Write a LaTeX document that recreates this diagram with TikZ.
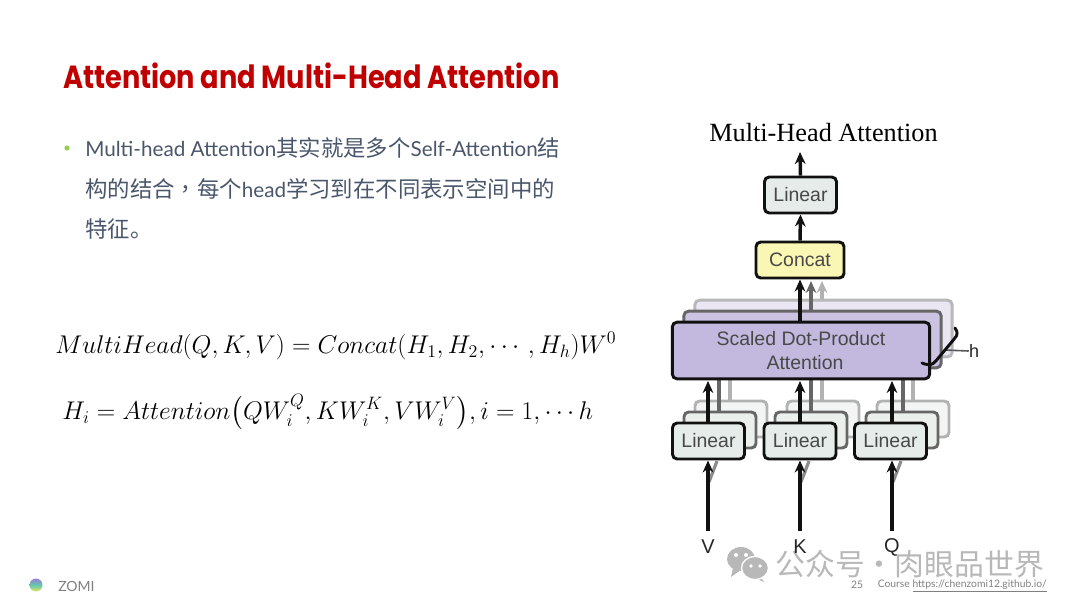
\documentclass[tikz,border=0pt]{standalone}
\usepackage{fix-cm}
\usepackage{amsmath}
\usepackage[no-math]{fontspec}
\usetikzlibrary{arrows.meta,positioning,calc}
\newfontfamily\gillfont{Lato}
\newfontfamily\titlefont[FakeStretch=0.85]{Poppins}
\newfontfamily\helvfont{Liberation Sans}
\newfontfamily\timesfont{Liberation Serif}
\newfontfamily\cjk[Scale=1.083]{Noto Sans CJK SC}
\newfontfamily\cjktc[Scale=1.083]{Noto Sans CJK TC}
\newfontfamily\stampfont{Noto Sans CJK SC}
\definecolor{cTitle}{HTML}{C00000}
\definecolor{cBody}{HTML}{4A566B}
\definecolor{cBullet}{HTML}{92D050}
\definecolor{cLinear}{HTML}{E6ECE9}
\definecolor{cConcat}{HTML}{FAF6B4}
\definecolor{cScaled}{HTML}{C3B9DE}
\definecolor{cInk}{HTML}{111111}
\definecolor{cLabel}{HTML}{484848}
\definecolor{cStamp}{HTML}{B8B8B8}
\definecolor{cLogoA}{HTML}{9B7FD4}
\definecolor{cLogoB}{HTML}{5FC8B0}
\definecolor{cLogoC}{HTML}{EDE35E}
\tikzset{
  box/.style    = {draw=cInk, line width=2.2pt, rounded corners=3.5pt, align=center,
                   inner sep=0pt, text=cLabel, font=\helvfont\fontsize{14.6}{17.8}\selectfont},
  linbox/.style = {box, fill=cLinear, minimum width=54pt, minimum height=27pt},
  linmid/.style = {linbox, draw=black!60, fill=cLinear!80},
  linbak/.style = {linbox, draw=black!30, fill=cLinear!50},
  scabox/.style = {box, fill=cScaled, minimum width=193pt, minimum height=42.5pt},
  scamid/.style = {scabox, draw=black!60, fill=cScaled!85},
  scabak/.style = {scabox, draw=black!28, fill=cScaled!35},
  flow/.style   = {-{Stealth[length=9pt,width=8pt]}, line width=2.6pt, draw=cInk},
  flowmid/.style = {flow, draw=black!60},
  flowbak/.style = {flow, draw=black!30},
  plainmid/.style = {line width=2.4pt, draw=black!60},
  plainbak/.style = {line width=2.4pt, draw=black!30},
  smear/.style  = {line width=2.4pt, draw=black!45},
  inlabel/.style = {font=\helvfont\fontsize{15}{18}\selectfont, text=black!85, inner sep=0pt},
  eqn/.style    = {anchor=west, inner sep=0pt, text=black, font=\fontsize{19.2}{23}\selectfont},
  stamp/.style  = {inner sep=0pt, text=cStamp, font=\stampfont\fontsize{22.4}{24}\selectfont},
  foot/.style   = {inner sep=0pt, text=black!50, font=\gillfont\fontsize{7.75}{9}\selectfont},
}
\begin{document}
\begin{tikzpicture}[x=0.75pt,y=-0.75pt]
  \useasboundingbox (0,0) rectangle (1080,608);
  % slide text
  \node[anchor=west, inner sep=0pt, text=cTitle, font=\titlefont\bfseries\fontsize{24}{28}\selectfont]
    (title) at (63,75.5) {Attention and Multi-Head Attention};
  \fill[cBullet] (67,148) circle (2.6);
  \node[anchor=north west, inner sep=0pt, align=left, text=cBody,
        font=\gillfont\fontsize{15.5}{30.4}\selectfont] (body) at (85,137.5)
    {Multi-head Attention{\cjk 其实就是多个}Self-Attention{\cjk 结}\\
     {\cjk 构的结合}{\cjktc ，}{\cjk 每个}head{\cjk 学习到在不同表示空间中的}\\
     {\cjk 特征。}};
  % formulas
  \node[eqn] (eqa) at (55,346)
    {$MultiHead(Q,K,V)=Concat(H_1,H_2,\cdots,H_h)W^0$};
  \node[eqn] (eqb) at (62,412)
    {$H_i=Attention\bigl(QW_i^Q,KW_i^K,VW_i^V\bigr),i=1,\cdots h$};
  % watermark
  \fill[cStamp] (741,559) ellipse (14 and 12);
  \fill[cStamp] (733,568) -- (731,577) -- (741,570) -- cycle;
  \fill[cStamp] (755,568) ellipse (13.5 and 11.5);
  \fill[cStamp] (760,576) -- (764,582) -- (752,577) -- cycle;
  \draw[white, line width=1pt] (755,568) ellipse (13.5 and 11.5);
  \fill[white] (736,555) circle (2) (746,555) circle (2) (751,566) circle (1.8) (760,566) circle (1.8);
  \node[stamp, anchor=west] (wmark) at (775,564) {公众号·肉眼品世界};
  % back copies
  \node[scabak] (scac) at (823.5,328.5) {};
  \draw[flowbak] (scac.north -| 822,0) -- (822,281);
  \node[linbak] (linac) at (731,419) {};
  \node[linbak] (linbc) at (823,419) {};
  \node[linbak] (lincc) at (913,419) {};
  % middle copies
  \node[scamid] (scab) at (812.5,339.5) {};
  \draw[flowmid] (scab.north -| 811,0) -- (811,281);
  \draw[plainbak] (730,402) -- (730,378);
  \draw[plainbak] (822,402) -- (822,378);
  \draw[plainbak] (913,402) -- (913,378);
  \node[linmid] (linab) at (720,430) {};
  \node[linmid] (linbb) at (811,430) {};
  \node[linmid] (lincb) at (902,430) {};
  \draw[plainmid] (719,413) -- (719,378);
  \draw[plainmid] (811,413) -- (811,378);
  \draw[plainmid] (903,413) -- (903,378);
  % h marker
  \node[inlabel, font=\helvfont\fontsize{13.5}{17}\selectfont] (hlabel) at (974,351) {h};
  \draw[line width=1.2pt, draw=black!65] (944,350) -- (hlabel.west);
  % front stack
  \node[scabox] (sca) at (801,350.5) {Scaled Dot-Product\\\hspace*{6pt}Attention};
  \draw[line width=2.2pt, draw=cInk, line cap=round, rounded corners=2pt]
    (955,328) .. controls (958,332) and (957,335) .. (955,338)
    -- (935,362) .. controls (931,365) and (926,365) .. (922,363);
  \node[box, fill=cConcat, minimum width=66pt, minimum height=27pt] (conc) at (800,260) {Concat};
  \node[linbox] (lint) at (800.5,195) {Linear};
  \node[inner sep=0pt, text=black, font=\timesfont\fontsize{19.7}{22}\selectfont] (head) at (823.5,133) {Multi-Head Attention};
  \coordinate (outp) at (800,152);
  \draw[flow] (sca.north -| conc.south) -- (conc.south);
  \draw[flow] (conc.north) -- (lint.south);
  \draw[flow] (lint.north) -- (outp);
  % inputs
  \node[linbox] (lina) at (708.5,441) {Linear};
  \node[linbox] (linb) at (800,441) {Linear};
  \node[linbox] (linc) at (890.5,441) {Linear};
  \draw[flow] (lina.north -| 708,0) -- (708,381);
  \draw[flow] (linb.north) -- (800,381);
  \draw[flow] (linc.north -| 892,0) -- (892,381);
  \node[inlabel] (inv) at (708,547) {V};
  \node[inlabel] (ink) at (800,547) {K};
  \node[inlabel] (inq) at (892,547) {Q};
  \draw[smear] (717,461) -- (709,482);
  \draw[smear] (809,461) -- (801,482);
  \draw[smear] (901,461) -- (893,482);
  \draw[flow] (708,531) -- (lina.south -| 708,0);
  \draw[flow] (800,531) -- (linb.south);
  \draw[flow] (892,531) -- (linc.south -| 892,0);
  % footer
  \shade[top color=cLogoA, bottom color=cLogoC, middle color=cLogoB] (36,585) circle (6.5);
  \node[anchor=west, inner sep=0pt, text=black!50, font=\gillfont\fontsize{10.5}{12}\selectfont] (zomi) at (58,586) {ZOMI};
  \node[foot] (page) at (857,585) {25};
  \node[foot, anchor=east] (course) at (1047,586) {Course \underline{https://chenzomi12.github.io/}};
\end{tikzpicture}
\end{document}
